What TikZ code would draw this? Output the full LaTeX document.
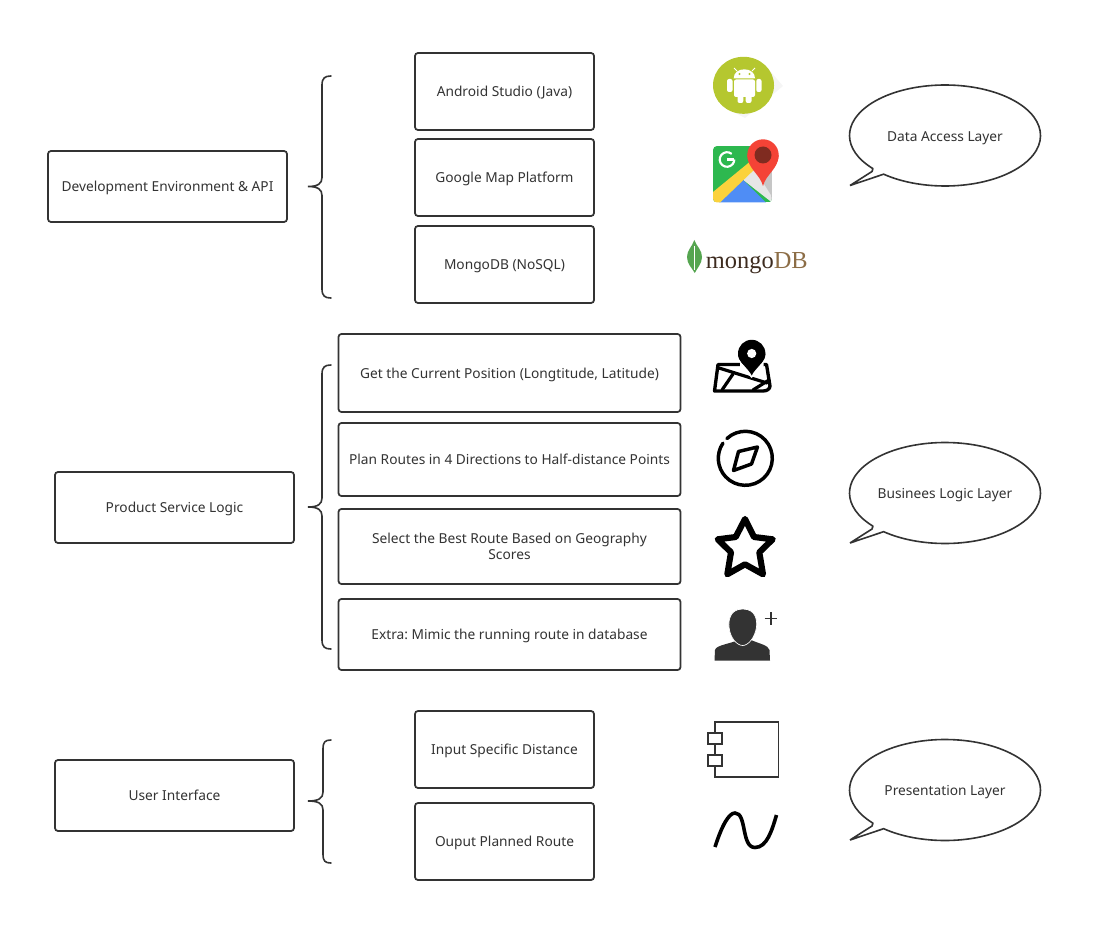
\documentclass[tikz,border=0pt]{standalone}
\usepackage{fontspec}
\setmainfont{Noto Sans}
\newfontfamily\logofont{Liberation Serif}
\frenchspacing
\definecolor{ink}{HTML}{333333}
\definecolor{droid}{HTML}{B5C72F}
\definecolor{gmgreen}{HTML}{2DB84F}
\definecolor{gmyellow}{HTML}{FBD23C}
\definecolor{gmblue}{HTML}{4F8DF5}
\definecolor{gmgrey}{HTML}{E6E6E6}
\definecolor{gmred}{HTML}{F44336}
\definecolor{gmdark}{HTML}{7F2B20}
\definecolor{leaf}{HTML}{55A550}
\definecolor{mongoA}{HTML}{3D2B1F}
\definecolor{mongoB}{HTML}{8C6D46}
\tikzset{
  x=0.75pt,y=-0.75pt,
  box/.style={draw=ink,line width=1.3pt,rounded corners=2.2pt,fill=white,text=ink,align=center,
     inner sep=0pt,text height=9.6pt,text depth=1.4pt,font=\fontsize{10.3}{12}\selectfont},
  bracepath/.style={draw=ink,line width=1.2pt,line cap=round},
  bubble/.style={draw=ink,line width=1.2pt,fill=white,line join=bevel},
  bubbletext/.style={text=ink,inner sep=0pt,text height=9.6pt,text depth=1.4pt,font=\fontsize{10.3}{12}\selectfont},
  iconline/.style={draw=black,line width=2.4pt,line join=round,line cap=round},
}
\newcommand{\mybrace}[4]{% top mid bottom xvertical
  \path[bracepath] (331,#1) .. controls (325,#1) and (#4,#1+2) .. (#4,#1+9)
   -- (#4,#2-9) .. controls (#4,#2-3) and (#4-4,#2) .. (308,#2)
   .. controls (#4-4,#2) and (#4,#2+3) .. (#4,#2+9)
   -- (#4,#3-9) .. controls (#4,#3-2) and (325,#3) .. (331,#3);}
\newcommand{\mybubble}[1]{% centre y
  \path[bubble] (850,#1+50) -- (945+95.5*cos 130,#1+50.5*sin 130)
    arc[start angle=130,end angle=-221,x radius=95.5,y radius=50.5] -- (872,#1+36) -- cycle;}
\begin{document}
\begin{tikzpicture}
\useasboundingbox (0,0) rectangle (1102,941);
% boxes
\node[box,minimum width=179.25pt,minimum height=53.25pt] (dev) at (167.5,186.5) {Development Environment \& API};
\node[box,minimum width=134.25pt,minimum height=57.75pt] (android) at (504.5,91.5) {Android Studio (Java)};
\node[box,minimum width=134.25pt,minimum height=57.75pt] (gmap) at (504.5,177.5) {Google Map Platform};
\node[box,minimum width=134.25pt,minimum height=57.75pt] (mongo) at (504.5,264.5) {MongoDB (NoSQL)};
\node[box,minimum width=256.5pt,minimum height=58.5pt] (pos) at (509.5,373) {Get the Current Position (Longtitude, Latitude)};
\node[box,minimum width=256.5pt,minimum height=54.75pt] (plan) at (509.5,459.5) {Plan Routes in 4 Directions to Half-distance Points};
\node[box,minimum width=256.5pt,minimum height=56.25pt,text height=21.6pt] (select) at (509.5,546.5) {Select the Best Route Based on Geography\\Scores};
\node[box,minimum width=256.5pt,minimum height=53.25pt] (extra) at (509.5,634.5) {Extra: Mimic the running route in database};
\node[box,minimum width=179.25pt,minimum height=53.25pt] (svc) at (174.5,507.5) {Product Service Logic};
\node[box,minimum width=134.25pt,minimum height=57.75pt] (input) at (504.5,749.5) {Input Specific Distance};
\node[box,minimum width=134.25pt,minimum height=57.75pt] (ouput) at (504.5,841.5) {Ouput Planned Route};
\node[box,minimum width=179.25pt,minimum height=53.25pt] (ui) at (174.5,795.5) {User Interface};
% braces
\mybrace{76}{186.5}{298}{322}
\mybrace{365}{507}{649}{322}
\mybrace{740}{801}{863}{323}
% bubbles
\mybubble{135.5}
\mybubble{493}
\mybubble{790}
\node[bubbletext] (dal) at (945,136.5) {Data Access Layer};
\node[bubbletext] (bll) at (945,493.5) {Businees Logic Layer};
\node[bubbletext] (pl) at (945,790.5) {Presentation Layer};
% android icon
\fill[gray!8] (722,106) -- (765,65) -- (783,86) -- (745,118) -- cycle;
\fill[droid] (743.5,85.3) ellipse[x radius=30.5,y radius=28.5];
\begin{scope}[white]
  \fill[rounded corners=1.5pt] (734,79.5) rectangle (755,97);
  \fill (733.7,78.3) .. controls (733.7,73) and (738,69.3) .. (744.4,69.3) .. controls (750.5,69.3) and (755,73) .. (755,78.3) -- cycle;
  \fill[rounded corners=1.5pt] (727,79) rectangle (732.5,92);
  \fill[rounded corners=1.5pt] (756.3,79) rectangle (761.5,92);
  \fill[rounded corners=1.5pt] (737.5,92) rectangle (743.3,103);
  \fill[rounded corners=1.5pt] (745.7,92) rectangle (751.5,103);
  \draw[line width=0.7pt] (737,71) -- (734,68);
  \draw[line width=0.7pt] (752,71) -- (755,68);
\end{scope}
\fill[droid] (739.5,74) circle[radius=1.2] (749.5,74) circle[radius=1.2];
% google maps icon
\begin{scope}
  \clip[rounded corners=3pt] (713,146) rectangle (772,202.5);
  \fill[gmgreen] (713,146) rectangle (772,202.5);
  \fill[gmgrey] (742,179) -- (772,150) -- (772,202.5) -- cycle;
  \fill[gray!45] (752,165) -- (772,150) -- (772,202.5) -- (771,195) -- cycle;
  \fill[gmblue] (719,202.5) -- (742,179) -- (766,202.5) -- cycle;
  \fill[gmyellow] (713,192) -- (752,160) -- (757,167) -- (720,202.5) -- (713,202.5) -- cycle;
\end{scope}
\draw[white,line width=1.6pt] (727,159.5) ++(-50:7.3) arc[start angle=-50,end angle=-360,radius=7.3];
\draw[white,line width=1.6pt] (727,159.5) -- (734.3,159.5);
\fill[gmred] (763,186) .. controls (760,174) and (747.5,169) .. (747.3,155)
   arc[start angle=180,end angle=360,radius=15.7]
   .. controls (778.5,169) and (766,174) .. (763,186) -- cycle;
\fill[gmred] (747.3,155) arc[start angle=180,end angle=0,radius=15.7] -- cycle;
\fill[gmdark] (763,155) circle[radius=8.5];
% mongodb icon
\fill[leaf] (694.3,240) .. controls (697,247) and (702,250) .. (702,257)
  .. controls (702,264) and (697,268) .. (694.8,273)
  .. controls (692,268) and (687,264) .. (687,257)
  .. controls (687,250) and (692,247) .. (694.3,240) -- cycle;
\draw[white,line width=0.3pt] (694.5,246) -- (694.5,270);
\node[inner sep=0pt,anchor=base west,font=\logofont\fontsize{18.3}{19}\selectfont] (mlogo) at (705.7,268.5)
  {\textcolor{mongoA}{mongo}\textcolor{mongoB}{DB}};
% map pin icon
\draw[iconline,line width=2.5pt] (740,364.5) -- (718,364.5) -- (714.5,391) -- (763,391)
   .. controls (767,391) and (770,389) .. (770,386) -- (766.5,364.5) -- (763,364.5);
\draw[iconline] (719,368) -- (767,383);
\draw[iconline] (722,390) -- (733,374);
\draw[iconline] (753,390) -- (769,380);
\fill[white] (751.7,378) -- (740,366) -- (740,354) -- (763.5,354) -- (763.5,366) -- cycle;
\fill[black] (751.7,375.5) .. controls (749,369) and (738,362) .. (738,353.5)
  arc[start angle=180,end angle=360,radius=13.7]
  .. controls (765.4,362) and (754.4,369) .. (751.7,375.5) -- cycle;
\fill[black] (738,353.5) arc[start angle=180,end angle=0,radius=13.7] -- cycle;
\fill[white] (751.7,353.5) circle[radius=4.6];
% compass icon
\draw[iconline,line width=2.6pt] (745.3,458.3) ++(-133:27) arc[start angle=-133,end angle=214,radius=27];
\draw[iconline,line width=2.6pt] (757.5,447) -- (751.5,464) -- (733.5,470.5) -- (738.5,451.5) -- cycle;
% star icon
\draw[iconline,line width=4.6pt] (745,519) -- (754,537) -- (772.7,539.3) -- (759.3,552.3) -- (763,574.3) -- (745,564.3)
  -- (727.3,574.3) -- (731,552.3) -- (717.7,539.3) -- (735.7,537) -- cycle;
% person icon
\fill[ink] (714.5,660.5) -- (715,650) .. controls (716,645) and (730,644) .. (738,640)
  -- (751,640) .. controls (760,644) and (768,645) .. (769.5,650) -- (770,660.5) -- cycle;
\fill[ink,draw=white,line width=0.5pt] (742.7,609) .. controls (757,609) and (757,622) .. (756.5,627)
   .. controls (755,638) and (748,645.5) .. (742.7,645.5)
   .. controls (737,645.5) and (730,638) .. (729,627)
   .. controls (728.5,622) and (729,609) .. (742.7,609) -- cycle;
\draw[ink,line width=1.2pt] (764.5,618.3) -- (777,618.3) (771,612.3) -- (771,624.5);
% component icon
\draw[ink,line width=1.4pt] (715,722) rectangle (778.5,776.7);
\draw[ink,line width=1.4pt,fill=white] (708,733) rectangle (722,744);
\draw[ink,line width=1.4pt,fill=white] (708,755) rectangle (722,766);
% wave icon
\draw[black,line width=2.7pt,line cap=butt] (715,847) .. controls (722,825) and (729,813) .. (735,813)
  .. controls (747,813) and (741,847.5) .. (755,847.5)
  .. controls (767,847.5) and (772,830) .. (776.5,815);
\end{tikzpicture}
\end{document}
